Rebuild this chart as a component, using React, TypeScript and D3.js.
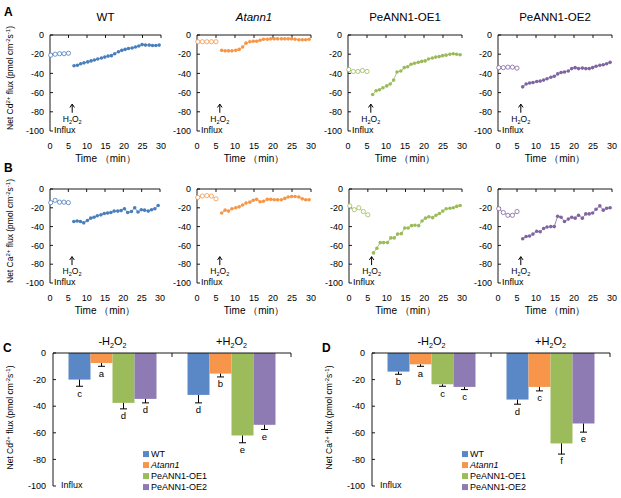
import React from "react";
import * as d3 from "d3";

const FONT = "'Liberation Sans', Arial, sans-serif";

// time points (min)
const TIME_PRE = [0.2, 1.4, 2.6, 3.8, 5.0];
const TIME_POST = [6.5, 7.4, 8.3, 9.2, 10.2, 11.1, 12.0, 12.9, 13.9, 14.8, 15.7, 16.6, 17.5, 18.5, 19.4, 20.3, 21.2, 22.2, 23.1, 24.0, 24.9, 25.8, 26.8, 27.7, 28.6, 29.5];
const X_TICKS = [0, 5, 10, 15, 20, 25, 30];
const Y_TICKS = [0, -20, -40, -60, -80, -100];

const GENOTYPES = ["WT", "Atann1", "PeANN1-OE1", "PeANN1-OE2"];
const COLORS_LINE = ["#4a7ebb", "#f79646", "#9bbb59", "#8064a2"];
const COLORS_BAR = ["#5a88c6", "#f7964a", "#9cbc5b", "#8f7bb3"];

// A: Cd2+ flux
const CD_PRE_WT = [-21, -20, -19.5, -19.5, -19];
const CD_POST_WT = [-32, -31.5, -30, -29, -28, -27, -26, -25, -24, -23, -22, -21.5, -19.5, -17.5, -16, -15, -14, -13.5, -12.5, -11.5, -10, -10.5, -10.5, -11, -11, -10.5];
const CD_PRE_ATANN1 = [-7, -7, -7, -7, -7];
const CD_POST_ATANN1 = [-16, -16.5, -16.5, -16.5, -16, -15, -12.5, -8.5, -7, -6.5, -6.5, -5.5, -4.5, -4.5, -4, -4, -4, -4, -4, -4, -4, -4.5, -5, -5, -5, -4.5];
const CD_PRE_OE1 = [-36, -38, -38, -37, -38];
const CD_POST_OE1 = [-62, -58, -57, -55, -53, -51, -47, -38.5, -37.5, -34, -33, -30.5, -29.5, -28.5, -27.5, -27, -25, -24, -23, -22.5, -21.5, -21, -20, -19.5, -20, -20.5];
const CD_PRE_OE2 = [-34, -34, -33.5, -33.5, -34.5];
const CD_POST_OE2 = [-54, -51, -50, -49.5, -48.5, -48, -47, -45.5, -44, -43, -40.5, -39, -38.5, -37.5, -35, -34, -35, -34.5, -35, -35, -34, -32.5, -31.5, -31, -30, -28.5];

// B: Ca2+ flux
const CA_PRE_WT = [-14.5, -12, -14, -14, -14.5];
const CA_POST_WT = [-34.5, -34, -34.5, -36, -33.5, -31, -30, -28.5, -27.5, -26, -25.5, -25, -23.5, -23.5, -23, -21, -25, -24, -20, -24.5, -22, -22.5, -23.5, -22, -21, -17.5];
const CA_PRE_ATANN1 = [-9, -7.5, -7, -7.5, -10.5];
const CA_POST_ATANN1 = [-25.5, -22.5, -23.5, -21, -20, -19, -17, -15, -14, -12, -11, -13.5, -13, -11, -11, -11.5, -11.5, -11.5, -10, -8.5, -8, -8, -8.5, -10.5, -11.5, -11.5];
const CA_PRE_OE1 = [-18, -22, -20, -24, -27.5];
const CA_POST_OE1 = [-68, -63, -57, -57, -57, -52, -52, -48, -47.5, -41.5, -41.5, -39, -38.5, -39, -34, -31, -29.5, -30.5, -28, -26, -23.5, -21, -20.5, -20, -18.5, -17.5];
const CA_PRE_OE2 = [-21, -25, -28, -28, -24];
const CA_POST_OE2 = [-53, -50.5, -50, -48, -45, -45.5, -42, -40.5, -40, -40, -29, -30, -34.5, -32, -30, -31, -28, -31, -26.5, -26.5, -25.5, -21.5, -18, -22.5, -20.5, -20];

// C / D: bar means, errors, letters
const TREATMENTS = ["-", "+"];
const CD_MEAN = [[-20, -7.5, -37.5, -34.5], [-31.5, -15.5, -62, -54]];
const CD_ERR = [[5, 2.5, 4.5, 3], [6, 2.5, 5.5, 3.5]];
const CD_LETTERS = [["c", "a", "d", "d"], ["d", "b", "e", "e"]];
const CA_MEAN = [[-14, -8.5, -23.5, -25.5], [-35, -25.5, -68, -53]];
const CA_ERR = [[2, 1.5, 1.5, 2], [3.5, 3, 8, 6.5]];
const CA_LETTERS = [["b", "a", "c", "c"], ["d", "c", "f", "e"]];

const H2O2 = ({ x, y, size = 9, prefix = "" }: any) => (
  <text x={x} y={y} textAnchor="middle" fontSize={size} fontFamily={FONT} fill="#000">
    {prefix}H
    <tspan dy={size * 0.25} fontSize={size * 0.65}>2</tspan>
    <tspan dy={-size * 0.25}>O</tspan>
    <tspan dy={size * 0.25} fontSize={size * 0.65}>2</tspan>
  </text>
);

const YLabel = ({ x, y, ion }: any) => (
  <text transform={`translate(${x},${y}) rotate(-90)`} textAnchor="middle" fontSize={8.5} fontFamily={FONT} fill="#000">
    Net {ion}
    <tspan dy={-3} fontSize={6}>2+</tspan>
    <tspan dy={3}> flux (pmol cm</tspan>
    <tspan dy={-3} fontSize={6}>-2</tspan>
    <tspan dy={3}>s</tspan>
    <tspan dy={-3} fontSize={6}>-1</tspan>
    <tspan dy={3}>)</tspan>
  </text>
);

function LinePanel({ xr, yr, color, pre, post, title, italic, ylabel, arrowT = 6 }: any) {
  const x = d3.scaleLinear().domain([0, 30]).range(xr);
  const y = d3.scaleLinear().domain([-100, 0]).range([yr[1], yr[0]]);
  const line = d3.line<[number, number]>().x((d) => x(d[0])).y((d) => y(d[1]));
  const preD: [number, number][] = pre.map((v: number, i: number) => [TIME_PRE[i], v]);
  const postD: [number, number][] = post.map((v: number, i: number) => [TIME_POST[i], v]);
  const cx = (xr[0] + xr[1]) / 2;
  return (
    <g fontFamily={FONT}>
      {title && (
        <text x={cx} y={yr[0] - 14} textAnchor="middle" fontSize={11.5} fontStyle={italic ? "italic" : "normal"}>{title}</text>
      )}
      {ylabel && <YLabel x={xr[0] - 37} y={(yr[0] + yr[1]) / 2 - 5} ion={ylabel} />}
      <line x1={x(0)} x2={x(0)} y1={y(0)} y2={y(-100)} stroke="#000" strokeWidth={0.9} />
      <line x1={x(0)} x2={x(30)} y1={y(0)} y2={y(0)} stroke="#000" strokeWidth={0.9} />
      {Y_TICKS.map((t) => (
        <g key={t}>
          <line x1={x(0)} x2={x(0) + 3} y1={y(t)} y2={y(t)} stroke="#000" strokeWidth={0.9} />
          <text x={x(0) - 6} y={y(t)} dy="0.35em" textAnchor="end" fontSize={9}>{t}</text>
        </g>
      ))}
      {X_TICKS.map((t) => (
        <g key={t}>
          {t > 0 && <line x1={x(t)} x2={x(t)} y1={y(0)} y2={y(0) + 3} stroke="#000" strokeWidth={0.9} />}
          <text x={x(t)} y={yr[1] + 15} dy="0.35em" textAnchor="middle" fontSize={9}>{t}</text>
        </g>
      ))}
      <text x={cx} y={yr[1] + 27} dy="0.35em" textAnchor="middle" fontSize={10}>Time （min）</text>
      <path d={line(preD) || ""} fill="none" stroke={color} strokeWidth={0.7} />
      <path d={line(postD) || ""} fill="none" stroke={color} strokeWidth={0.8} />
      {preD.map((d, i) => (
        <circle key={"o" + i} cx={x(d[0])} cy={y(d[1])} r={2.1} fill="#fff" stroke={color} strokeWidth={0.8} />
      ))}
      {postD.map((d, i) => (
        <circle key={"f" + i} cx={x(d[0])} cy={y(d[1])} r={1.8} fill={color} />
      ))}
      <line x1={x(arrowT)} x2={x(arrowT)} y1={y(-72)} y2={y(-81)} stroke="#000" strokeWidth={1} />
      <path d={`M${x(arrowT) - 2.3},${y(-75.5)} L${x(arrowT)},${y(-72)} L${x(arrowT) + 2.3},${y(-75.5)}`} fill="none" stroke="#000" strokeWidth={1} />
      <H2O2 x={x(arrowT)} y={y(-87.5) + 3} size={8.5} />
      <text x={x(0) + 4} y={y(-99)} dy="0.35em" fontSize={9}>Influx</text>
    </g>
  );
}

function BarPanel({ xr, yr, mean, err, letters, ion }: any) {
  const x = d3.scaleBand().domain(TREATMENTS).range(xr);
  const y = d3.scaleLinear().domain([-100, 0]).range([yr[1], yr[0]]);
  const bw = x.bandwidth();
  return (
    <g fontFamily={FONT}>
      <YLabel x={xr[0] - 40} y={(yr[0] + yr[1]) / 2 - 2} ion={ion} />
      {TREATMENTS.map((tr, gi) => {
        const c = (x(tr) as number) + bw / 2;
        const inner = d3.scaleBand().domain(GENOTYPES).range([c - 44, c + 44]);
        return (
          <g key={tr}>
            <H2O2 x={c} y={yr[0] - 8} size={11} prefix={tr} />
            {GENOTYPES.map((g, i) => {
              const bx = inner(g) as number;
              const w = inner.bandwidth();
              const m = mean[gi][i];
              const e = m - err[gi][i];
              const mx = bx + w / 2;
              return (
                <g key={g}>
                  <rect x={bx} y={y(0)} width={w} height={y(m) - y(0)} fill={COLORS_BAR[i]} />
                  <line x1={mx} x2={mx} y1={y(m)} y2={y(e)} stroke="#000" strokeWidth={1} />
                  <line x1={mx - 3.5} x2={mx + 3.5} y1={y(e)} y2={y(e)} stroke="#000" strokeWidth={1} />
                  <text x={mx} y={y(e) + 7} dy="0.35em" textAnchor="middle" fontSize={9.5}>{letters[gi][i]}</text>
                </g>
              );
            })}
          </g>
        );
      })}
      <line x1={xr[0]} x2={xr[0]} y1={y(0)} y2={y(-100)} stroke="#000" strokeWidth={0.9} />
      <line x1={xr[0]} x2={xr[1]} y1={y(0)} y2={y(0)} stroke="#000" strokeWidth={0.9} />
      {[...TREATMENTS.slice(1).map((t) => x(t) as number), xr[1]].map((v, i) => (
        <line key={i} x1={v} x2={v} y1={y(0)} y2={y(0) + 4} stroke="#000" strokeWidth={0.9} />
      ))}
      {Y_TICKS.map((t) => (
        <g key={t}>
          <line x1={xr[0]} x2={xr[0] + 3} y1={y(t)} y2={y(t)} stroke="#000" strokeWidth={0.9} />
          <text x={xr[0] - 7} y={y(t)} dy="0.35em" textAnchor="end" fontSize={9}>{t}</text>
        </g>
      ))}
      <text x={xr[0] + 8} y={y(-99)} dy="0.35em" fontSize={9}>Influx</text>
      {GENOTYPES.map((g, i) => (
        <g key={g} transform={`translate(${xr[0] + 90},${y(-76) + i * 11})`}>
          <rect x={0} y={-3} width={6} height={6} fill={COLORS_BAR[i]} />
          <text x={8} y={0} dy="0.35em" fontSize={9} fontStyle={g === "Atann1" ? "italic" : "normal"}>{g}</text>
        </g>
      ))}
    </g>
  );
}

export default function App() {
  const rowA = [
    { xr: [50, 161], pre: CD_PRE_WT, post: CD_POST_WT },
    { xr: [197, 311], pre: CD_PRE_ATANN1, post: CD_POST_ATANN1 },
    { xr: [348, 462], pre: CD_PRE_OE1, post: CD_POST_OE1 },
    { xr: [498, 612], pre: CD_PRE_OE2, post: CD_POST_OE2 },
  ];
  const rowB = [
    { xr: [50, 160], pre: CA_PRE_WT, post: CA_POST_WT },
    { xr: [197, 311], pre: CA_PRE_ATANN1, post: CA_POST_ATANN1 },
    { xr: [349, 462], pre: CA_PRE_OE1, post: CA_POST_OE1 },
    { xr: [498, 612], pre: CA_PRE_OE2, post: CA_POST_OE2 },
  ];
  return (
    <svg width={621} height={498} style={{ position: "absolute", left: 0, top: 0, background: "#fff" }}>
      <rect width={621} height={498} fill="#fff" />
      <g fontFamily={FONT} fontWeight="bold" fontSize={12}>
        <text x={4} y={16}>A</text>
        <text x={4} y={172}>B</text>
        <text x={3} y={352}>C</text>
        <text x={322} y={352}>D</text>
      </g>
      {rowA.map((p, i) => (
        <LinePanel key={"a" + i} xr={p.xr} yr={[35, 131]} color={COLORS_LINE[i]} pre={p.pre} post={p.post}
          title={GENOTYPES[i]} italic={i === 1} ylabel={i === 0 ? "Cd" : null} />
      ))}
      {rowB.map((p, i) => (
        <LinePanel key={"b" + i} xr={p.xr} yr={[189, 283]} color={COLORS_LINE[i]} pre={p.pre} post={p.post}
          ylabel={i === 0 ? "Ca" : null} />
      ))}
      <BarPanel xr={[53, 291]} yr={[353, 486]} mean={CD_MEAN} err={CD_ERR} letters={CD_LETTERS} ion="Cd" />
      <BarPanel xr={[372, 610]} yr={[353, 486]} mean={CA_MEAN} err={CA_ERR} letters={CA_LETTERS} ion="Ca" />
    </svg>
  );
}
